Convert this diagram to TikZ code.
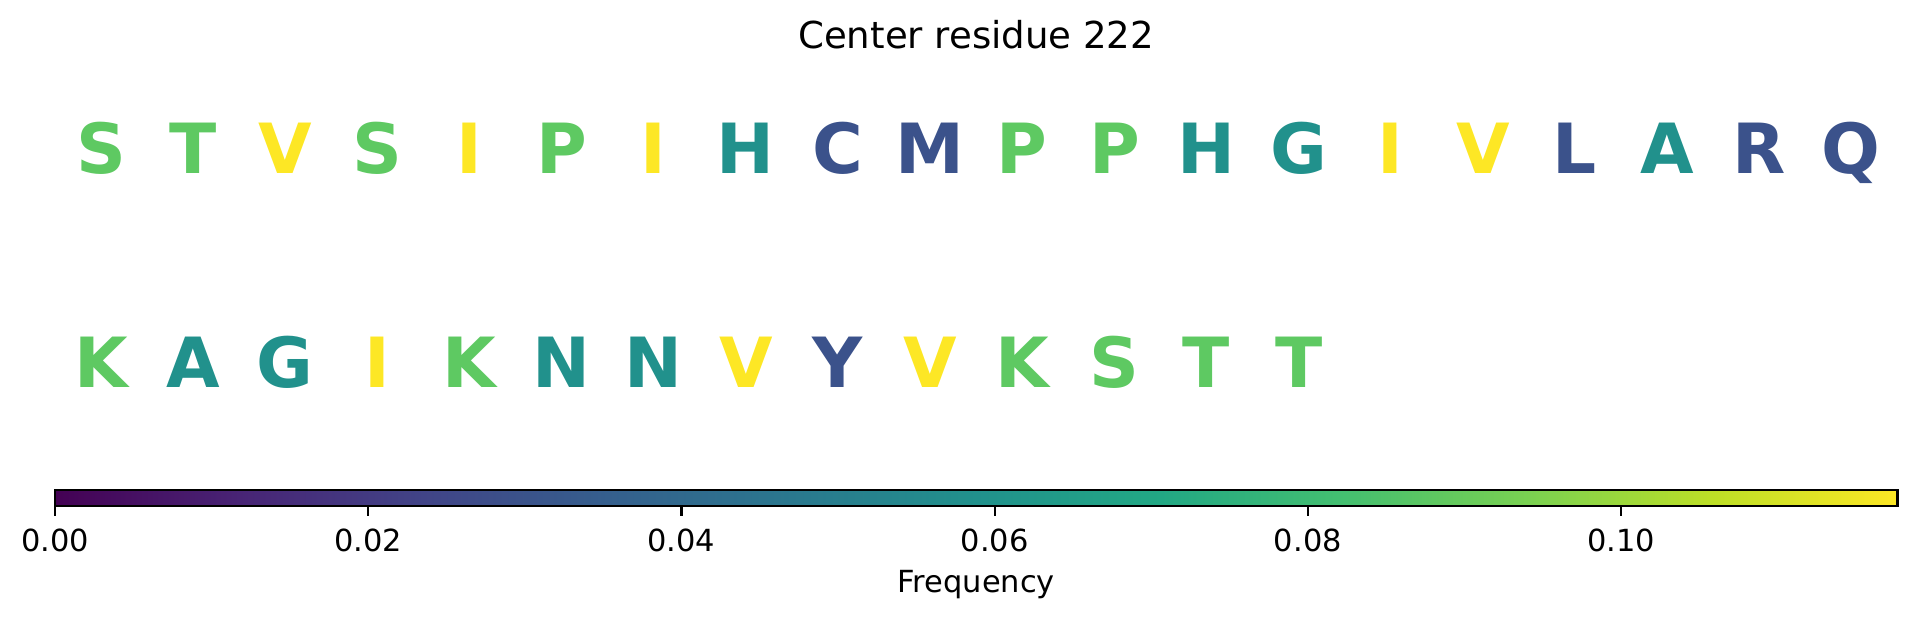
\documentclass[tikz,border=0pt]{standalone}
\usepackage{fontspec}
\setmainfont{DejaVu Sans}
\definecolor{v0}{HTML}{440154}
\definecolor{v1}{HTML}{482475}
\definecolor{v2}{HTML}{414487}
\definecolor{v3}{HTML}{355F8D}
\definecolor{v4}{HTML}{2A788E}
\definecolor{v5}{HTML}{21918C}
\definecolor{v6}{HTML}{22A884}
\definecolor{v7}{HTML}{44BF70}
\definecolor{v8}{HTML}{7AD151}
\definecolor{v9}{HTML}{BDDF26}
\definecolor{v10}{HTML}{FDE725}
\definecolor{fq1}{HTML}{3B528B}
\definecolor{fq2}{HTML}{21918C}
\definecolor{fq3}{HTML}{5EC962}
\definecolor{fq4}{HTML}{FDE725}
\pgfdeclarehorizontalshading{viridis}{100bp}{color(0bp)=(v0); color(25bp)=(v0); color(30bp)=(v1); color(35bp)=(v2); color(40bp)=(v3); color(45bp)=(v4); color(50bp)=(v5); color(55bp)=(v6); color(60bp)=(v7); color(65bp)=(v8); color(70bp)=(v9); color(75bp)=(v10); color(100bp)=(v10)}
\begin{document}
\begin{tikzpicture}[x=0.44bp,y=-0.44bp,
  res/.style={anchor=base, inner sep=0pt, font=\fontsize{25}{30}\selectfont\bfseries},
  ticklab/.style={anchor=base, inner sep=0pt, font=\fontsize{11}{13}\selectfont},
  titlelab/.style={anchor=base, inner sep=0pt, font=\fontsize{13.4}{16}\selectfont}]
\useasboundingbox (0,0) rectangle (1568,506.3);
\node[titlelab] (title) at (798.5,40) {Center residue 222};
\foreach \i/\l/\c in {1/S/3,2/T/3,3/V/4,4/S/3,5/I/4,6/P/3,7/I/4,8/H/2,9/C/1,10/M/1,11/P/3,12/P/3,13/H/2,14/G/2,15/I/4,16/V/4,17/L/1,18/A/2,19/R/1,20/Q/1}
  \node[res, text=fq\c] (a\i) at ({45+(\i-0.5)*75.35},142) {\l};
\foreach \i/\l/\c in {1/K/3,2/A/2,3/G/2,4/I/4,5/K/3,6/N/2,7/N/2,8/V/4,9/Y/1,10/V/4,11/K/3,12/S/3,13/T/3,14/T/3}
  \node[res, text=fq\c] (b\i) at ({45+(\i-0.5)*75.35},317) {\l};
\shade[shading=viridis] (45,401) rectangle (1552,414);
\draw[line width=0.8pt] (45,401) rectangle (1552,414);
\foreach \v/\lab in {0/0.00,1/0.02,2/0.04,3/0.06,4/0.08,5/0.10}{
  \draw[line width=0.8pt] ({45+\v*256.19},414) -- ({45+\v*256.19},422);
  \node[ticklab] (t\v) at ({45+\v*256.19},451) {\lab};
}
\node[ticklab] (freq) at (798.5,485) {Frequency};
\end{tikzpicture}
\end{document}
